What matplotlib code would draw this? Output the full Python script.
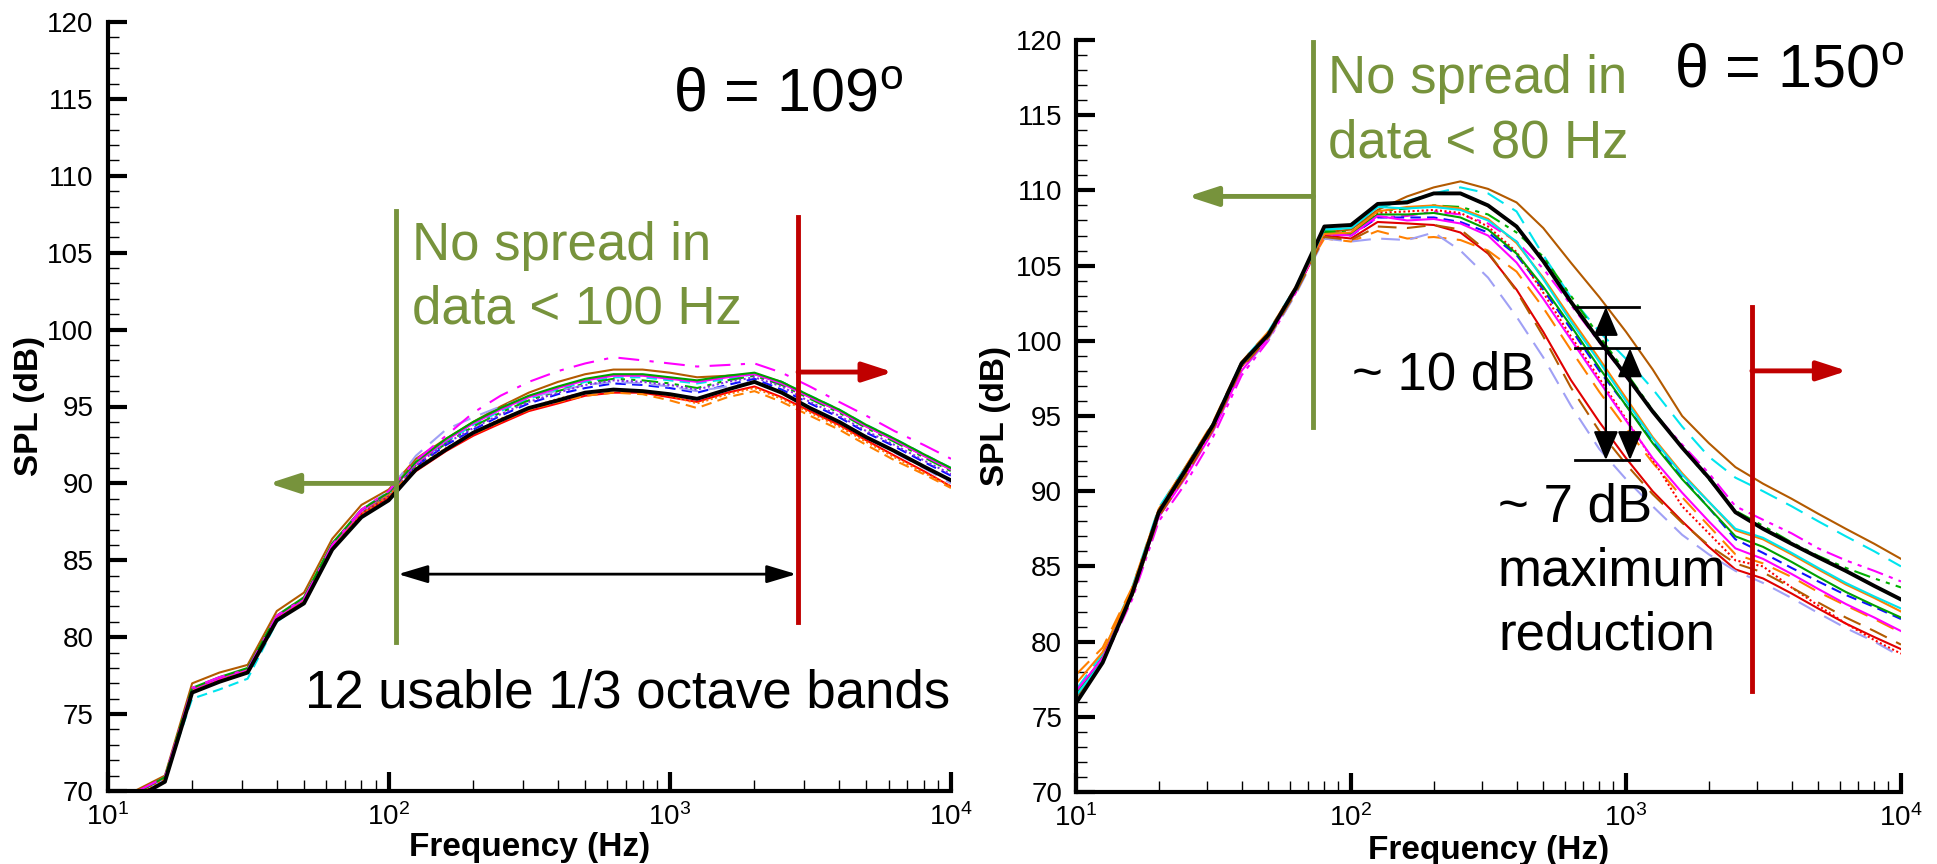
import matplotlib.pyplot as plt
from matplotlib.ticker import MultipleLocator, LogLocator

# 1/3 octave band centres (Hz)
freq = [10, 12.5, 16, 20, 25, 31.5, 40, 50, 63, 80, 100, 125, 160, 200, 250, 315,
        400, 500, 630, 800, 1000, 1250, 1600, 2000, 2500, 3150, 4000, 5000, 6300, 8000, 10000]

# theta = 109 deg
black_109 = [67.5, 69.5, 70.6, 76.4, 77.1, 77.7, 81.1, 82.2, 85.7, 87.8, 88.9, 90.9, 92.2, 93.3, 94.1, 94.9,
             95.4, 95.9, 96.1, 96.0, 95.8, 95.5, 96.1, 96.6, 95.9, 94.9, 94.0, 93.0, 92.1, 91.1, 90.2]
l_magenta_dd = [67.8, 69.9, 70.9, 76.7, 77.4, 77.9, 81.4, 82.5, 86.0, 88.3, 89.5, 91.5, 93.1, 94.6, 95.7, 96.6,
                97.3, 97.8, 98.2, 98.0, 97.8, 97.6, 97.7, 97.8, 97.2, 96.3, 95.3, 94.4, 93.4, 92.5, 91.6]
l_brown = [67.9, 70.0, 71.0, 77.0, 77.7, 78.2, 81.7, 82.9, 86.4, 88.6, 89.6, 91.6, 92.9, 94.0, 95.0, 95.9,
           96.6, 97.1, 97.4, 97.4, 97.2, 96.9, 97.0, 97.1, 96.6, 95.6, 94.7, 93.7, 92.8, 91.8, 90.9]
l_cyan = [67.6, 69.7, 70.8, 76.0, 76.6, 77.3, 81.0, 82.3, 85.9, 88.0, 89.2, 91.3, 92.7, 93.8, 94.7, 95.5,
          96.1, 96.6, 96.9, 96.9, 96.7, 96.5, 96.8, 97.1, 96.6, 95.7, 94.8, 93.8, 92.9, 91.9, 91.0]
l_green_ddd = [67.7, 69.8, 70.9, 76.6, 77.3, 77.9, 81.3, 82.5, 86.0, 88.1, 89.3, 91.2, 92.6, 93.7, 94.6, 95.4,
               96.0, 96.5, 96.8, 96.7, 96.5, 96.2, 96.7, 97.0, 96.4, 95.5, 94.6, 93.6, 92.7, 91.7, 90.8]
l_blue = [67.6, 69.7, 70.8, 76.5, 77.2, 77.8, 81.2, 82.4, 85.9, 88.1, 89.2, 91.1, 92.5, 93.5, 94.4, 95.2,
          95.8, 96.2, 96.5, 96.4, 96.2, 95.9, 96.4, 96.8, 96.1, 95.2, 94.3, 93.3, 92.4, 91.4, 90.5]
l_red = [67.5, 69.6, 70.7, 76.5, 77.2, 77.8, 81.2, 82.3, 85.8, 88.0, 89.1, 90.8, 92.1, 93.1, 93.9, 94.7,
         95.2, 95.7, 95.9, 95.9, 95.6, 95.3, 95.9, 96.3, 95.6, 94.7, 93.8, 92.8, 91.8, 90.8, 89.8]
l_orange = [67.7, 69.8, 70.9, 76.6, 77.3, 77.9, 81.3, 82.4, 85.9, 88.2, 89.3, 90.9, 92.2, 93.2, 94.0, 94.8,
            95.3, 95.7, 95.9, 95.8, 95.4, 94.9, 95.6, 96.0, 95.3, 94.4, 93.5, 92.5, 91.5, 90.6, 89.7]
l_lavender = [67.6, 69.7, 70.8, 76.6, 77.3, 77.9, 81.4, 82.6, 86.1, 88.3, 89.5, 91.8, 93.5, 94.3, 95.0, 95.6,
              96.0, 96.4, 96.6, 96.5, 96.3, 96.0, 96.3, 96.6, 95.9, 94.9, 94.0, 93.0, 92.0, 91.0, 90.0]
l_purple = [67.6, 69.7, 70.8, 76.5, 77.2, 77.8, 81.2, 82.4, 85.9, 88.0, 89.2, 91.2, 92.6, 93.6, 94.5, 95.3,
            95.9, 96.4, 96.7, 96.6, 96.4, 96.1, 96.6, 96.9, 96.3, 95.3, 94.4, 93.4, 92.5, 91.5, 90.6]
l_magenta = [67.7, 69.8, 70.9, 76.6, 77.3, 77.9, 81.3, 82.5, 86.0, 88.2, 89.4, 91.3, 92.8, 93.9, 94.8, 95.6,
             96.2, 96.7, 97.0, 97.0, 96.8, 96.6, 96.9, 97.1, 96.5, 95.6, 94.7, 93.7, 92.8, 91.8, 90.9]
l_orange_dot = [67.6, 69.7, 70.8, 76.5, 77.2, 77.8, 81.2, 82.3, 85.8, 88.0, 89.2, 91.0, 92.3, 93.3, 94.2, 94.9,
                95.5, 95.9, 96.1, 96.0, 95.7, 95.2, 95.8, 96.2, 95.5, 94.6, 93.7, 92.7, 91.7, 90.7, 89.8]
l_green = [67.7, 69.8, 70.9, 76.7, 77.4, 78.0, 81.4, 82.6, 86.1, 88.3, 89.4, 91.4, 92.9, 94.0, 94.9, 95.7,
           96.3, 96.8, 97.1, 97.1, 96.9, 96.7, 97.0, 97.2, 96.6, 95.7, 94.8, 93.8, 92.9, 91.9, 91.0]

# theta = 150 deg
black_150 = [75.9, 78.6, 83.2, 88.6, 91.4, 94.4, 98.5, 100.4, 103.5, 107.6, 107.7, 109.1, 109.2, 109.8, 109.8, 109.0,
             107.6, 105.3, 102.6, 100.0, 97.7, 95.3, 92.9, 90.9, 88.6, 87.5, 86.5, 85.6, 84.7, 83.7, 82.8]
r_brown = [76.5, 79.0, 83.5, 88.8, 91.6, 94.5, 98.4, 100.5, 103.4, 107.2, 107.4, 108.7, 109.6, 110.2, 110.6, 110.1,
           109.2, 107.5, 105.2, 102.9, 100.6, 98.1, 95.0, 93.2, 91.6, 90.5, 89.5, 88.5, 87.5, 86.5, 85.5]
r_cyan = [76.8, 79.2, 83.6, 88.9, 91.6, 94.5, 98.6, 100.6, 103.6, 107.4, 107.5, 108.9, 109.3, 109.8, 110.2, 109.8,
          108.6, 105.7, 102.9, 100.6, 98.8, 96.8, 94.3, 92.3, 90.9, 90.0, 89.0, 88.0, 87.0, 86.0, 85.0]
r_magenta_ddd = [76.3, 78.6, 82.8, 88.0, 90.5, 93.6, 97.7, 100.0, 103.2, 107.2, 107.0, 108.2, 108.3, 108.6, 108.4, 107.8,
                 106.6, 104.8, 102.4, 99.9, 97.6, 95.3, 93.1, 91.2, 89.0, 88.1, 87.2, 86.2, 85.4, 84.7, 84.0]
r_green_ddd = [76.4, 78.8, 83.3, 88.6, 91.3, 94.3, 98.4, 100.4, 103.4, 107.3, 107.2, 108.6, 108.8, 109.0, 108.9, 108.4,
               107.2, 105.6, 103.0, 100.3, 97.9, 95.4, 92.9, 90.8, 88.7, 87.7, 86.6, 85.7, 84.9, 84.2, 83.6]
r_blue = [76.6, 78.9, 83.3, 88.5, 91.3, 94.3, 98.4, 100.4, 103.4, 107.1, 107.0, 108.2, 108.2, 108.2, 107.9, 107.2,
          105.7, 103.4, 100.8, 98.0, 95.7, 93.3, 90.9, 88.9, 86.8, 85.9, 84.9, 84.0, 83.1, 82.3, 81.5]
r_red = [76.5, 78.8, 83.2, 88.5, 91.2, 94.3, 98.3, 100.3, 103.3, 107.0, 106.8, 107.9, 107.8, 107.7, 107.2, 105.8,
         103.4, 100.6, 97.4, 94.6, 92.2, 90.0, 88.0, 86.3, 84.8, 84.2, 83.2, 82.2, 81.2, 80.3, 79.5]
r_orange = [77.8, 79.6, 83.6, 88.8, 91.6, 94.6, 98.6, 100.6, 103.6, 106.8, 106.6, 107.3, 106.8, 106.9, 106.7, 106.0,
            104.6, 102.2, 99.4, 96.6, 94.2, 91.9, 89.6, 87.7, 85.8, 85.2, 84.3, 83.3, 82.4, 81.5, 80.6]
r_lavender = [76.2, 78.6, 83.0, 88.3, 91.0, 94.0, 98.0, 100.1, 103.1, 106.8, 106.6, 106.8, 106.7, 107.2, 106.0, 104.2,
              101.6, 98.9, 95.7, 92.8, 90.8, 89.0, 87.1, 85.8, 84.7, 83.9, 82.9, 81.9, 80.9, 80.0, 79.0]
r_red_dot = [76.4, 78.7, 83.1, 88.4, 91.1, 94.2, 98.3, 100.3, 103.3, 107.1, 107.1, 108.5, 108.6, 108.7, 108.5, 107.6,
             105.9, 103.2, 100.3, 97.5, 94.8, 92.1, 89.0, 87.2, 85.4, 85.0, 83.6, 82.4, 81.2, 80.1, 79.2]
r_green = [76.5, 78.8, 83.2, 88.6, 91.3, 94.3, 98.4, 100.4, 103.4, 107.2, 107.1, 108.4, 108.4, 108.5, 108.2, 107.4,
           105.8, 103.6, 101.0, 98.2, 95.7, 93.2, 90.8, 88.9, 87.0, 86.3, 85.3, 84.3, 83.3, 82.4, 81.6]
r_magenta = [76.7, 78.9, 83.2, 88.3, 90.9, 94.0, 98.0, 100.2, 103.3, 107.1, 107.0, 108.3, 108.0, 108.1, 107.8, 107.0,
             105.2, 102.8, 100.1, 97.3, 94.7, 92.2, 89.9, 88.0, 86.2, 85.5, 84.5, 83.5, 82.5, 81.6, 80.7]
r_orange_solid = [77.2, 79.3, 83.5, 88.7, 91.5, 94.5, 98.5, 100.5, 103.5, 107.1, 107.2, 108.6, 108.9, 109.0, 108.8, 108.1,
                  106.5, 104.2, 101.5, 98.8, 96.2, 93.6, 91.2, 89.3, 87.4, 86.8, 85.8, 84.8, 83.8, 82.9, 82.0]
r_brown_dash = [76.3, 78.6, 83.0, 88.3, 91.0, 94.1, 98.2, 100.2, 103.2, 106.9, 106.7, 107.6, 107.5, 107.7, 107.4, 105.9,
                103.3, 100.3, 96.9, 94.0, 91.8, 89.8, 87.9, 86.4, 85.2, 84.6, 83.6, 82.6, 81.6, 80.7, 79.8]
r_cyan_solid = [76.4, 78.7, 83.2, 88.6, 91.4, 94.4, 98.4, 100.4, 103.4, 107.4, 107.5, 108.9, 108.8, 108.9, 108.7, 108.0,
                106.6, 104.1, 101.3, 98.6, 96.0, 93.5, 91.1, 89.3, 87.5, 86.9, 85.9, 84.9, 83.9, 83.0, 82.2]

SOLID = '-'
DASH = (0, (5, 3))
LONG = (0, (9, 5))
DOT = (0, (1, 1.2))
DASHDOT = (0, (10, 5, 2, 5))
DDDOT = (0, (8, 3, 2, 3, 2, 3))

curves_109 = [
    (l_brown, '#B35A00', SOLID), (l_cyan, '#00E5EE', DASH), (l_green_ddd, '#00B000', DDDOT),
    (l_blue, '#1010FF', DASH), (l_red, '#FF0000', SOLID), (l_orange, '#FF8000', DASH),
    (l_lavender, '#A0A0F5', LONG), (l_purple, '#8A2BE2', DOT), (l_magenta, '#FF00FF', SOLID),
    (l_orange_dot, '#FF7000', DOT), (l_green, '#00A000', SOLID), (l_magenta_dd, '#FF00FF', DASHDOT),
]
curves_150 = [
    (r_brown, '#B35A00', SOLID), (r_cyan, '#00E5EE', LONG), (r_magenta_ddd, '#FF00FF', DDDOT),
    (r_green_ddd, '#00B000', DDDOT), (r_blue, '#1010FF', DASH), (r_red, '#E00000', SOLID),
    (r_orange, '#FF8000', LONG), (r_lavender, '#A0A0F5', LONG), (r_red_dot, '#FF0000', DOT),
    (r_green, '#00A000', SOLID), (r_magenta, '#FF00FF', SOLID), (r_orange_solid, '#FF8000', SOLID),
    (r_brown_dash, '#B35A00', LONG), (r_cyan_solid, '#00E5EE', SOLID),
]

plt.rcParams['font.family'] = ['Liberation Sans', 'DejaVu Sans']
plt.rcParams['mathtext.fontset'] = 'custom'
plt.rcParams['mathtext.rm'] = 'Liberation Sans'
plt.rcParams['mathtext.it'] = 'Liberation Sans:italic'
plt.rcParams['mathtext.bf'] = 'Liberation Sans:bold'

OLIVE = '#77933C'
DARKRED = '#C00000'
W, H = 1937, 864

fig = plt.figure(figsize=(W / 100, H / 100), dpi=100)


def box(l, t, r, b):
    return [l / W, 1 - b / H, (r - l) / W, (b - t) / H]


def ftext(x, y, s, size=38, color='black'):
    fig.text(x / W, 1 - y / H, s, fontsize=size, color=color, ha='left', va='baseline')


def arrow(ax, x0, y0, x1, y1, color, lw, style, ms=45):
    ax.annotate('', xy=(x1, y1), xytext=(x0, y0),
                arrowprops=dict(arrowstyle=style, color=color, lw=lw,
                                shrinkA=0, shrinkB=0, mutation_scale=ms))


def style_axes(ax, xlab_y, ylab_x):
    ax.set_xscale('log')
    ax.set_xlim(10, 1e4)
    ax.set_ylim(70, 120)
    ax.yaxis.set_major_locator(MultipleLocator(5))
    ax.yaxis.set_minor_locator(MultipleLocator(1))
    ax.xaxis.set_major_locator(LogLocator(base=10, numticks=10))
    ax.xaxis.set_minor_locator(LogLocator(base=10, subs=range(2, 10), numticks=40))
    for s in ('top', 'right'):
        ax.spines[s].set_visible(False)
    for s in ('left', 'bottom'):
        ax.spines[s].set_linewidth(3)
    ax.tick_params(which='major', direction='in', length=14, width=3, labelsize=20)
    ax.tick_params(which='minor', direction='in', length=8, width=1)
    ax.tick_params(axis='x', which='major', pad=9)
    ax.tick_params(axis='y', which='major', pad=10)
    ax.set_xlabel('Frequency (Hz)', fontsize=24, fontweight='bold', va='top')
    ax.set_ylabel('SPL (dB)', fontsize=24, fontweight='bold', va='center')
    ax.xaxis.set_label_coords(0.5, xlab_y)
    ax.yaxis.set_label_coords(ylab_x, 0.5)


ax1 = fig.add_axes(box(107.5, 22, 951, 791))
ax2 = fig.add_axes(box(1076, 40, 1901, 792))

for vals, c, ls in curves_109:
    ax1.plot(freq, vals, color=c, linestyle=ls, lw=1.5)
ax1.plot(freq, black_109, color='black', lw=2.8)

for vals, c, ls in curves_150:
    ax2.plot(freq, vals, color=c, linestyle=ls, lw=1.5)
ax2.plot(freq, black_150, color='black', lw=2.8)

style_axes(ax1, -0.053, -0.092)
style_axes(ax2, -0.057, -0.098)

# --- left panel annotations
ax1.plot([106, 106], [79.7, 107.7], color=OLIVE, lw=3.5)
arrow(ax1, 106, 90.0, 37.5, 90.0, OLIVE, 3.5, '-|>,head_length=0.4,head_width=0.13')
ax1.plot([2858, 2858], [81.0, 107.3], color=DARKRED, lw=3.5)
arrow(ax1, 2858, 97.24, 6210, 97.24, DARKRED, 3.5, '-|>,head_length=0.4,head_width=0.13')
arrow(ax1, 108, 84.1, 2820, 84.1, 'black', 2, '<|-|>,head_length=0.4,head_width=0.12')

ftext(673, 112, r'θ = 109$^{\mathregular{o}}$', size=44)
ftext(412, 260, 'No spread in', color=OLIVE)
ftext(412, 323, 'data < 100 Hz', color=OLIVE)
ftext(305, 708, '12 usable 1/3 octave bands')

# --- right panel annotations
ax2.plot([73, 73], [94.3, 119.9], color=OLIVE, lw=3.5)
arrow(ax2, 73, 109.6, 25.5, 109.6, OLIVE, 3.5, '-|>,head_length=0.4,head_width=0.13')
ax2.plot([2870, 2870], [76.7, 102.25], color=DARKRED, lw=3.5)
arrow(ax2, 2870, 98.0, 6370, 98.0, DARKRED, 3.5, '-|>,head_length=0.4,head_width=0.13')

for lvl in (102.25, 99.5, 92.07):
    ax2.plot([653, 1114], [lvl, lvl], color='black', lw=2)
arrow(ax2, 845, 102.25, 845, 92.07, 'black', 1.6, '<|-|>,head_length=0.4,head_width=0.17')
arrow(ax2, 1034, 99.5, 1034, 92.07, 'black', 1.6, '<|-|>,head_length=0.4,head_width=0.17')

ftext(1674, 88, r'θ = 150$^{\mathregular{o}}$', size=44)
ftext(1328, 93, 'No spread in', color=OLIVE)
ftext(1328, 157, 'data < 80 Hz', color=OLIVE)
ftext(1352, 390, '~ 10 dB')
ftext(1498, 522, '~ 7 dB')
ftext(1498, 585, 'maximum')
ftext(1498, 649, 'reduction')

fig.savefig('out.png', dpi=100)
